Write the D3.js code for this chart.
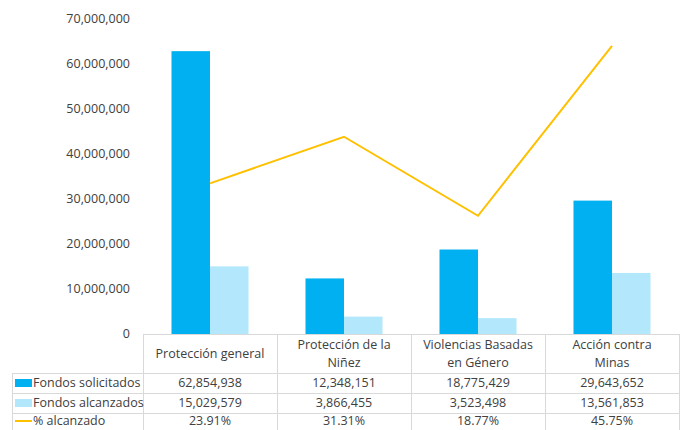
<!DOCTYPE html>
<html>
<head>
<meta charset="utf-8">
<script src="https://cdn.jsdelivr.net/npm/d3@7"></script>
<style>
  body { margin: 0; background: #fff; }
  text { font-family: "Open Sans", "Noto Sans", sans-serif; fill: #404040; }
</style>
</head>
<body>
<svg id="chart" width="680" height="430"></svg>
<script>
const categories = [["Protección general"], ["Protección de la", "Niñez"], ["Violencias Basadas", "en Género"], ["Acción contra", "Minas"]];
const solicitados = [62854938, 12348151, 18775429, 29643652];
const alcanzados = [15029579, 3866455, 3523498, 13561853];
const porcentaje = [0.2391, 0.3131, 0.1877, 0.4575];
const yTicks = [0, 10000000, 20000000, 30000000, 40000000, 50000000, 60000000, 70000000];

const colors = { sol: "#00B0F0", alc: "#B3E8FC", pct: "#FFC000" };
const grid = "#d9d9d9";

const svg = d3.select("#chart");
const plotLeft = 143, plotRight = 679, plotTop = 19, base = 334;

const x0 = d3.scaleBand().domain(d3.range(categories.length)).range([plotLeft, plotRight]);
const x1 = d3.scaleBand().domain(["sol", "alc"]).range([0, x0.bandwidth()]).paddingOuter(0.74);
const y = d3.scaleLinear().domain([0, 70000000]).range([base, plotTop]);
const y2 = d3.scaleLinear().domain([0, 0.5]).range([base, plotTop]);

// y axis labels
svg.append("g").selectAll("text")
  .data(yTicks)
  .enter()
  .append("text")
  .attr("x", 130)
  .attr("y", d => y(d))
  .attr("dy", "0.35em")
  .attr("text-anchor", "end")
  .attr("font-size", "12.5px")
  .text(d => d3.format(",")(d));

// bars
const groups = svg.append("g").selectAll("g")
  .data(categories.map((c, i) => i))
  .enter()
  .append("g")
  .attr("transform", i => `translate(${x0(i)},0)`);

groups.append("rect")
  .attr("x", x1("sol"))
  .attr("width", x1.bandwidth())
  .attr("y", i => y(solicitados[i]))
  .attr("height", i => base - y(solicitados[i]))
  .attr("fill", colors.sol);

groups.append("rect")
  .attr("x", x1("alc"))
  .attr("width", x1.bandwidth())
  .attr("y", i => y(alcanzados[i]))
  .attr("height", i => base - y(alcanzados[i]))
  .attr("fill", colors.alc);

// line
const line = d3.line()
  .x((d, i) => x0(i) + x0.bandwidth() / 2)
  .y(d => y2(d));

svg.append("path")
  .datum(porcentaje)
  .attr("d", line)
  .attr("fill", "none")
  .attr("stroke", colors.pct)
  .attr("stroke-width", 2);

// data table
const rowTops = [334, 373, 393, 413];
const rowBottom = 432;
const tableLeft = 12;
const t = svg.append("g");

// horizontal lines
t.append("line").attr("x1", plotLeft).attr("x2", plotRight).attr("y1", 334.5).attr("y2", 334.5).attr("stroke", grid);
[373, 393, 413].forEach(yy => {
  t.append("line").attr("x1", tableLeft).attr("x2", plotRight).attr("y1", yy + 0.5).attr("y2", yy + 0.5).attr("stroke", grid);
});
// vertical lines
x0.domain().forEach(i => {
  t.append("line").attr("x1", x0(i) + 0.5).attr("x2", x0(i) + 0.5).attr("y1", 334).attr("y2", rowBottom).attr("stroke", grid);
});
t.append("line").attr("x1", plotRight + 0.5).attr("x2", plotRight + 0.5).attr("y1", 334).attr("y2", rowBottom).attr("stroke", grid);
t.append("line").attr("x1", tableLeft + 0.5).attr("x2", tableLeft + 0.5).attr("y1", 373).attr("y2", rowBottom).attr("stroke", grid);

// header
categories.forEach((lines, i) => {
  const cx = x0(i) + x0.bandwidth() / 2;
  const cy = (334 + 373) / 2;
  const lh = 18;
  lines.forEach((ln, j) => {
    t.append("text")
      .attr("x", cx)
      .attr("y", cy + (j - (lines.length - 1) / 2) * lh)
      .attr("dy", "0.35em")
      .attr("text-anchor", "middle")
      .attr("font-size", "12.5px")
      .text(ln);
  });
});

// rows
const rows = [
  { name: "Fondos solicitados", values: solicitados, fmt: d3.format(","), key: "sol" },
  { name: "Fondos alcanzados", values: alcanzados, fmt: d3.format(","), key: "alc" },
  { name: "% alcanzado", values: porcentaje, fmt: d3.format(".2%"), key: "pct" }
];

rows.forEach((r, k) => {
  const cy = (rowTops[k + 1] + (k + 2 < rowTops.length ? rowTops[k + 2] : rowBottom - 3)) / 2;
  if (r.key === "pct") {
    t.append("line").attr("x1", 15).attr("x2", 32).attr("y1", cy).attr("y2", cy)
      .attr("stroke", colors.pct).attr("stroke-width", 2);
  } else {
    t.append("rect").attr("x", 15).attr("y", cy - 4).attr("width", 17).attr("height", 8)
      .attr("fill", colors[r.key]);
  }
  t.append("text")
    .attr("x", 33)
    .attr("y", cy)
    .attr("dy", "0.35em")
    .attr("font-size", "12.5px")
    .text(r.name);
  r.values.forEach((v, i) => {
    t.append("text")
      .attr("x", x0(i) + x0.bandwidth() / 2)
      .attr("y", cy)
      .attr("dy", "0.35em")
      .attr("text-anchor", "middle")
      .attr("font-size", "12.5px")
      .text(r.fmt(v));
  });
});
</script>
</body>
</html>
